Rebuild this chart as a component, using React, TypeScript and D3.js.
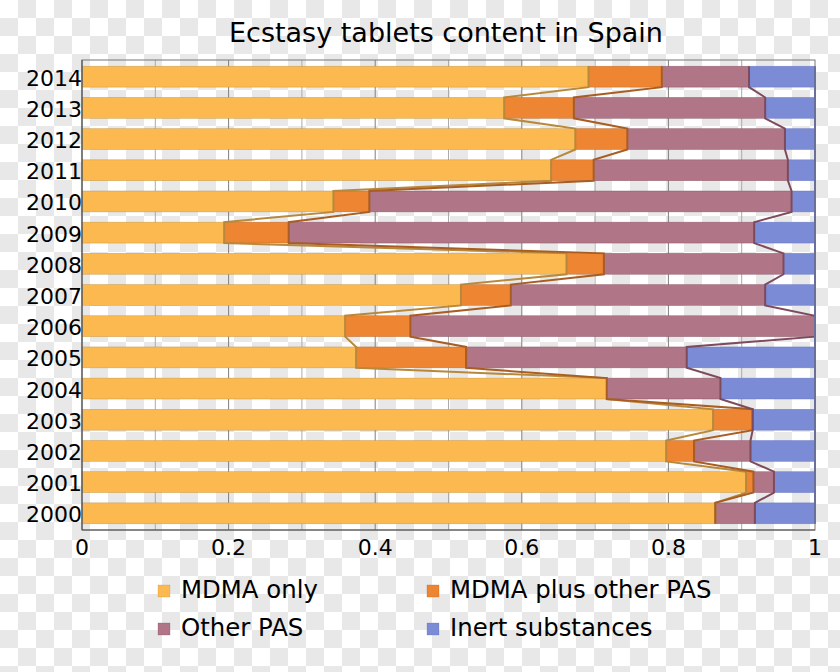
import * as d3 from "d3";

const years = [2000, 2001, 2002, 2003, 2004, 2005, 2006, 2007, 2008, 2009, 2010, 2011, 2012, 2013, 2014];
const mdmaOnly = [0.864, 0.906, 0.797, 0.861, 0.716, 0.374, 0.359, 0.517, 0.661, 0.194, 0.343, 0.64, 0.673, 0.576, 0.691];
const mdmaPlus = [0, 0.01, 0.038, 0.054, 0, 0.15, 0.089, 0.068, 0.051, 0.088, 0.049, 0.058, 0.071, 0.095, 0.1];
const otherPas = [0.054, 0.028, 0.077, 0, 0.155, 0.301, 0.552, 0.347, 0.245, 0.635, 0.576, 0.265, 0.215, 0.261, 0.119];
const inert = [0.082, 0.056, 0.088, 0.085, 0.129, 0.175, 0, 0.068, 0.043, 0.083, 0.032, 0.037, 0.041, 0.068, 0.09];

const seriesKeys = ["mdma", "plus", "other", "inert"];
const seriesNames = ["MDMA only", "MDMA plus other PAS", "Other PAS", "Inert substances"];
const fills = ["#fbb94f", "#ee8533", "#b07587", "#7c8bd6"];
const edges = ["#b8893a", "#a95d22", "#7e4b5d", "#5a6bc0"];
const xTicks = [0, 0.2, 0.4, 0.6, 0.8, 1];
const xGrid = d3.range(1, 10).map((d) => d / 10);

const W = 840;
const H = 672;
const left = 82;
const right = 815;
const top = 60;
const bottom = 530;
const font = "DejaVu Sans, sans-serif";

export default function App() {
  const rows = years.map((y, i) => ({
    year: y,
    mdma: mdmaOnly[i],
    plus: mdmaPlus[i],
    other: otherPas[i],
    inert: inert[i],
  }));
  const stacked = d3.stack<any>().keys(seriesKeys)(rows);

  const x = d3.scaleLinear([0, 1], [left, right]);
  const y = d3
    .scaleBand<number>()
    .domain([...years].reverse())
    .range([top, bottom])
    .paddingInner(0.33)
    .paddingOuter(0.2);
  const bw = y.bandwidth();

  // boundary polylines: top-to-bottom through each bar's segment end
  const boundary = (s: any) => {
    const pts: [number, number][] = [];
    [...years].reverse().forEach((yr) => {
      const d = s[years.indexOf(yr)];
      const yy = y(yr)!;
      pts.push([x(d[1]), yy]);
      pts.push([x(d[1]), yy + bw]);
    });
    return d3.line()(pts) as string;
  };

  return (
    <>
      <style>{`body{margin:0}`}</style>
      <svg width={W} height={H} style={{ display: "block" }}>
        <defs>
          <pattern id="checker" width={36} height={36} patternUnits="userSpaceOnUse">
            <rect width={36} height={36} fill="#ffffff" />
            <rect x={18} y={0} width={18} height={18} fill="#e8e8e8" />
            <rect x={0} y={18} width={18} height={18} fill="#e8e8e8" />
          </pattern>
        </defs>
        <rect width={W} height={H} fill="url(#checker)" />

        <text x={446} y={34} textAnchor="middle" dominantBaseline="middle" fontFamily={font} fontSize={27}>
          Ecstasy tablets content in Spain
        </text>

        <g>
          {xGrid.map((t, i) => (
            <line
              key={t}
              x1={x(t)}
              x2={x(t)}
              y1={top}
              y2={bottom}
              stroke={i % 2 === 1 ? "#7f7f7f" : "#ababab"}
              strokeWidth={1}
            />
          ))}
        </g>

        {stacked.map((s, si) => (
          <g key={s.key} fill={fills[si]} stroke={edges[si]} strokeWidth={0.6} strokeOpacity={0.6}>
            {s.map((d, i) =>
              d[1] - d[0] > 0 ? (
                <rect key={i} x={x(d[0])} y={y(years[i])} width={x(d[1]) - x(d[0])} height={bw} />
              ) : null
            )}
          </g>
        ))}

        {stacked.map((s, si) => (
          <path key={s.key} d={boundary(s)} fill="none" stroke={edges[si]} strokeWidth={2} />
        ))}

        <rect x={left} y={top} width={right - left} height={bottom - top} fill="none" stroke="#777" strokeWidth={1} />
        <line x1={left} x2={left} y1={top} y2={bottom} stroke="#555" strokeWidth={1.2} />
        <line x1={left} x2={right} y1={bottom} y2={bottom} stroke="#555" strokeWidth={1.2} />

        <g fontFamily={font} fontSize={22} fill="#000">
          {years.map((yr) => (
            <text key={yr} x={left} y={y(yr)! + bw / 2 + 3} textAnchor="end" dominantBaseline="middle">
              {yr}
            </text>
          ))}
          {xTicks.map((t) => (
            <text key={t} x={x(t)} y={549} textAnchor="middle" dominantBaseline="middle">
              {t}
            </text>
          ))}
        </g>

        <g fontFamily={font} fontSize={24.4}>
          {seriesNames.map((name, i) => {
            const lx = i % 2 === 0 ? 158 : 427;
            const ly = i < 2 ? 591 : 629;
            return (
              <g key={name}>
                <rect x={lx} y={ly - 6} width={12} height={12} fill={fills[i]} stroke={edges[i]} strokeWidth={0.5} strokeOpacity={0.5} />
                <text x={lx + 23} y={ly} dominantBaseline="middle">
                  {name}
                </text>
              </g>
            );
          })}
        </g>
      </svg>
    </>
  );
}
